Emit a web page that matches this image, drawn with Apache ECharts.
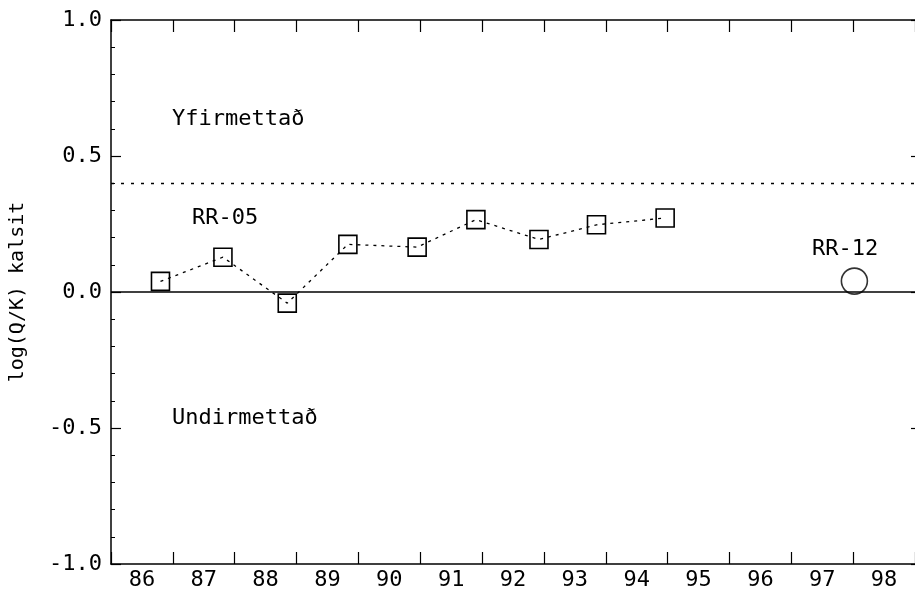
<!DOCTYPE html>
<html>
<head>
<meta charset="utf-8">
<script src="https://cdn.jsdelivr.net/npm/echarts@6/dist/echarts.min.js"></script>
<style>html,body{margin:0;padding:0;background:#fff;}#c{width:915px;height:596px;}</style>
</head>
<body>
<div id="c"></div>
<script>
const yearLabels = ['86','87','88','89','90','91','92','93','94','95','96','97','98'];
const rr05X = [86.30, 87.31, 88.35, 89.33, 90.45, 91.40, 92.42, 93.35, 94.46];
const rr05Y = [0.039, 0.128, -0.041, 0.175, 0.165, 0.266, 0.193, 0.247, 0.272];
const rr12X = [97.52];
const rr12Y = [0.04];
const saturationLine = 0.4;
const zeroLine = 0;
const yTicks = [-1.0, -0.5, 0.0, 0.5, 1.0];

const FONT = 'DejaVu Sans Mono';
const chart = echarts.init(document.getElementById('c'));
const lineBlack = {color:'#000', width:1.5};

chart.setOption({
  backgroundColor:'#fff',
  animation:false,
  grid:{left:105, right:0, top:20, bottom:32, containLabel:false},
  xAxis:[
    {type:'category', data:yearLabels, position:'bottom', boundaryGap:true,
     axisLine:{show:true, onZero:false, lineStyle:lineBlack},
     axisTick:{show:true, inside:true, length:12, lineStyle:{color:'#000', width:1.2}},
     axisLabel:{color:'#000', fontFamily:FONT, fontSize:22, margin:5},
     splitLine:{show:false}},
    {type:'category', data:yearLabels, position:'top', boundaryGap:true,
     axisLine:{show:true, onZero:false, lineStyle:lineBlack},
     axisTick:{show:true, inside:true, length:12, lineStyle:{color:'#000', width:1.2}},
     axisLabel:{show:false}, splitLine:{show:false}},
    {type:'value', min:85.5, max:98.5, show:false,
     axisLine:{onZero:false}}
  ],
  yAxis:[
    {type:'value', min:yTicks[0], max:yTicks[yTicks.length-1], interval:0.5, position:'left',
     name:'log(Q/K) kalsit', nameLocation:'middle', nameRotate:90, nameGap:83,
     nameTextStyle:{color:'#000', fontFamily:FONT, fontSize:20},
     axisLine:{show:true, onZero:false, lineStyle:lineBlack},
     axisTick:{show:true, inside:true, length:10, lineStyle:{color:'#000', width:1.2}},
     minorTick:{show:true, splitNumber:5, length:4, lineStyle:{color:'#000', width:1}},
     axisLabel:{color:'#000', fontFamily:FONT, fontSize:22, margin:9,
       formatter:v=>v.toFixed(1)},
     splitLine:{show:false}},
    {type:'value', min:yTicks[0], max:yTicks[yTicks.length-1], interval:0.5, position:'right',
     axisLine:{show:false, onZero:false},
     axisTick:{show:true, inside:true, length:4, lineStyle:{color:'#000', width:1.2}},
     axisLabel:{show:false}, splitLine:{show:false}}
  ],
  series:[
    {name:'RR-05', type:'line', xAxisIndex:2, yAxisIndex:0,
     data:rr05X.map((x,i)=>[x, rr05Y[i]]),
     symbol:'rect', symbolSize:18,
     itemStyle:{color:'rgba(0,0,0,0)', borderColor:'#000', borderWidth:1.6},
     lineStyle:{color:'#000', width:1.3, type:[3,5]},
     markLine:{silent:true, symbol:'none', label:{show:false},
       data:[
         {yAxis:saturationLine, lineStyle:{color:'#000', width:1.3, type:[3,7]}},
         {yAxis:zeroLine, lineStyle:{color:'#000', width:1.5, type:'solid'}}
       ]},
     z:3},
    {name:'RR-12', type:'scatter', xAxisIndex:2, yAxisIndex:0,
     data:rr12X.map((x,i)=>[x, rr12Y[i]]),
     symbol:'circle', symbolSize:26,
     itemStyle:{color:'rgba(0,0,0,0)', borderColor:'#000', borderWidth:1.6},
     z:3}
  ],
  graphic:[
    {type:'text', left:172, top:108, style:{text:'Yfirmettað', fill:'#000', font:'22px "DejaVu Sans Mono"'}},
    {type:'text', left:192, top:207, style:{text:'RR-05', fill:'#000', font:'22px "DejaVu Sans Mono"'}},
    {type:'text', left:172, top:407, style:{text:'Undirmettað', fill:'#000', font:'22px "DejaVu Sans Mono"'}},
    {type:'text', left:812, top:238, style:{text:'RR-12', fill:'#000', font:'22px "DejaVu Sans Mono"'}}
  ]
});
</script>
</body>
</html>
